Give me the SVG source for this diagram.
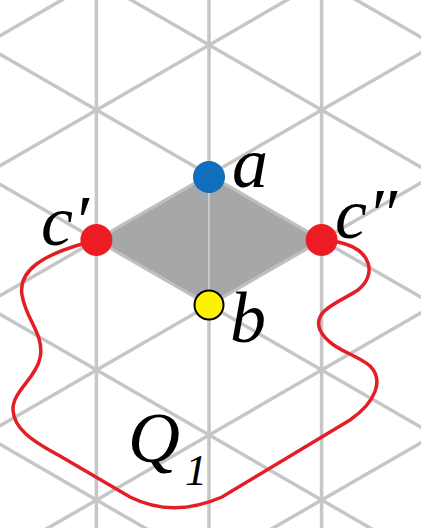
<svg xmlns="http://www.w3.org/2000/svg" width="421" height="528" viewBox="0 0 421 528">
<style>
.lat{stroke:#c6c6c6;stroke-width:3.5;fill:none}
.lbl{font-family:"Liberation Serif","Times New Roman",serif;font-style:italic;fill:#000}
</style>
<rect width="421" height="528" fill="#fff"/>
<g id="lattice" class="lat">
<line x1="96.4" y1="-5" x2="96.4" y2="533"/>
<line x1="209" y1="-5" x2="209" y2="533"/>
<line x1="321.6" y1="-5" x2="321.6" y2="533"/>
<line x1="-10" y1="41.5" x2="431" y2="-213.1"/>
<line x1="-10" y1="171.5" x2="431" y2="-83.1"/>
<line x1="-10" y1="301.5" x2="431" y2="46.9"/>
<line x1="-10" y1="431.5" x2="431" y2="176.9"/>
<line x1="-10" y1="561.5" x2="431" y2="306.9"/>
<line x1="-10" y1="691.5" x2="431" y2="436.9"/>
<line x1="-10" y1="-211.5" x2="431" y2="43.1"/>
<line x1="-10" y1="-81.5" x2="431" y2="173.1"/>
<line x1="-10" y1="48.5" x2="431" y2="303.1"/>
<line x1="-10" y1="178.5" x2="431" y2="433.1"/>
<line x1="-10" y1="308.5" x2="431" y2="563.1"/>
<line x1="-10" y1="438.5" x2="431" y2="693.1"/>
</g>
<g id="rhombus">
<polygon points="96.4,240 209,175 321.6,240 209,305" fill="#a6a7a9" stroke="#bfbfbf" stroke-width="3" stroke-linejoin="round"/>
<line x1="209" y1="175" x2="209" y2="305" stroke="#c8c8c8" stroke-width="2"/>
</g>
<g id="connectors">
<path id="Q1-curve" d="M82,244 C44,255 18,270 22,295 C26,320 45,335 40,358 C36,378 12,392 13,410 C14,428 30,440 60,456 L130,497 C160,512 190,511 222,497 L350,420 C376,402 384,380 370,366 C357,354 330,350 320,330 C312,310 340,302 358,290 C376,276 374,250 338,242" fill="none" stroke="#e31e25" stroke-width="3.5" stroke-linecap="round"/>
</g>
<g id="node-c1">
<circle cx="96.4" cy="240" r="16" fill="#ed1c24"/>
<text class="lbl" x="41" y="245" font-size="72">c′</text>
</g>
<g id="node-c2">
<circle cx="321.6" cy="240" r="16" fill="#ed1c24"/>
<text class="lbl" x="335" y="238" font-size="72">c″</text>
</g>
<g id="node-a">
<circle cx="209" cy="177" r="16" fill="#0f6fbd"/>
<text class="lbl" x="232" y="187" font-size="72">a</text>
</g>
<g id="node-b">
<circle cx="209" cy="305" r="14.5" fill="#fff200" stroke="#000" stroke-width="2"/>
<text class="lbl" x="230" y="342" font-size="72">b</text>
</g>
<g id="label-Q1">
<text class="lbl" x="128" y="462" font-size="72">Q</text>
<text class="lbl" x="185" y="485" font-size="44">1</text>
</g>
</svg>
